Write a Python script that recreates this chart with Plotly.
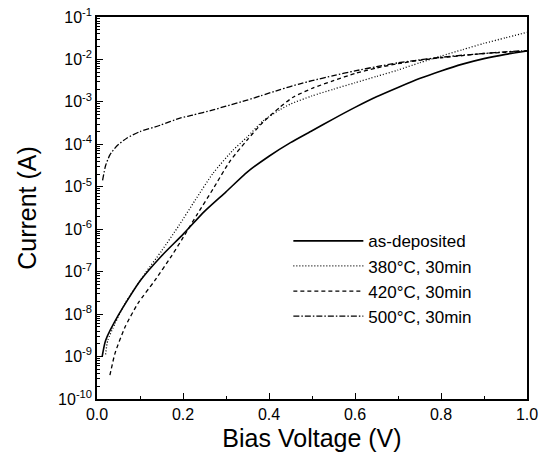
import plotly.graph_objects as go

# as-deposited
v_asdep = [0.012, 0.02, 0.05, 0.1, 0.15, 0.2, 0.25, 0.3, 0.35, 0.4, 0.45, 0.5, 0.55, 0.6, 0.65, 0.7, 0.75, 0.8, 0.85, 0.9, 0.95, 1.0]
logi_asdep = [-9.0, -8.62, -8.02, -7.22, -6.63, -6.12, -5.58, -5.12, -4.65, -4.28, -3.96, -3.68, -3.40, -3.13, -2.88, -2.66, -2.45, -2.27, -2.11, -1.98, -1.88, -1.80]

# 380C, 30min
v_380 = [0.02, 0.025, 0.042, 0.065, 0.112, 0.151, 0.19, 0.228, 0.27, 0.316, 0.349, 0.386, 0.426, 0.45, 0.5, 0.55, 0.6, 0.65, 0.7, 0.75, 0.8, 0.85, 0.9, 0.95, 1.0]
logi_380 = [-8.95, -8.62, -8.22, -7.75, -7.04, -6.50, -5.92, -5.32, -4.68, -4.14, -3.83, -3.45, -3.18, -3.05, -2.86, -2.70, -2.55, -2.40, -2.25, -2.08, -1.92, -1.77, -1.62, -1.49, -1.36]

# 420C, 30min
v_420 = [0.03, 0.042, 0.065, 0.095, 0.135, 0.174, 0.2, 0.233, 0.27, 0.309, 0.349, 0.386, 0.426, 0.456, 0.503, 0.55, 0.6, 0.65, 0.7, 0.75, 0.8, 0.85, 0.9, 0.95, 1.0]
logi_420 = [-9.44, -8.92, -8.31, -7.75, -7.20, -6.62, -6.20, -5.65, -5.05, -4.40, -3.90, -3.48, -3.12, -2.89, -2.67, -2.50, -2.33, -2.20, -2.10, -2.02, -1.96, -1.91, -1.86, -1.83, -1.80]

# 500C, 30min
v_500 = [0.013, 0.02, 0.03, 0.045, 0.07, 0.1, 0.147, 0.193, 0.223, 0.27, 0.3, 0.349, 0.38, 0.426, 0.47, 0.5, 0.55, 0.6, 0.65, 0.7, 0.75, 0.8, 0.85, 0.9, 0.95, 1.0]
logi_500 = [-4.85, -4.50, -4.25, -4.05, -3.85, -3.70, -3.55, -3.38, -3.31, -3.19, -3.10, -2.96, -2.86, -2.71, -2.58, -2.50, -2.38, -2.27, -2.17, -2.08, -2.01, -1.95, -1.90, -1.86, -1.82, -1.79]

names = ["as-deposited", "380\u00b0C, 30min", "420\u00b0C, 30min", "500\u00b0C, 30min"]
y_tickvals = [1e-10, 1e-9, 1e-8, 1e-7, 1e-6, 1e-5, 1e-4, 1e-3, 1e-2, 1e-1]
y_ticktext = ["10<sup>-10</sup>", "10<sup>-9</sup>", "10<sup>-8</sup>", "10<sup>-7</sup>", "10<sup>-6</sup>",
              "10<sup>-5</sup>", "10<sup>-4</sup>", "10<sup>-3</sup>", "10<sup>-2</sup>", "10<sup>-1</sup>"]
x_tickvals = [0.0, 0.2, 0.4, 0.6, 0.8, 1.0]
x_ticktext = ["0.0", "0.2", "0.4", "0.6", "0.8", "1.0"]

series = [
    (v_asdep, logi_asdep, "solid", 1.6),
    (v_380, logi_380, "1px,2px", 1.3),
    (v_420, logi_420, "4px,3px", 1.3),
    (v_500, logi_500, "6px,2px,1.5px,2px", 1.3),
]

fig = go.Figure()
for (v, lg, dash, w), name in zip(series, names):
    fig.add_trace(go.Scatter(
        x=v, y=[10 ** e for e in lg], mode="lines", name=name,
        line=dict(color="black", width=w, dash=dash, shape="spline", smoothing=0.6),
    ))

font_family = "Liberation Sans, Arial, sans-serif"
fig.update_layout(
    width=542, height=460,
    margin=dict(l=97, r=15, t=17, b=61),
    paper_bgcolor="white", plot_bgcolor="white",
    font=dict(family=font_family, color="black", size=16),
    showlegend=True,
    legend=dict(x=0.445, y=0.46, xanchor="left", yanchor="top",
                bgcolor="rgba(0,0,0,0)", font=dict(size=17, family=font_family),
                itemwidth=70, tracegroupgap=0),
    xaxis=dict(range=[0, 1], tickmode="array", tickvals=x_tickvals, ticktext=x_ticktext,
               ticks="inside", ticklen=6, tickwidth=1, tickcolor="black",
               ticklabeloverflow="allow", automargin=False,
               minor=dict(ticks="inside", ticklen=3, dtick=0.1, tickcolor="black"),
               showline=True, linecolor="black", linewidth=1.5, mirror=True,
               showgrid=False, zeroline=False,
               title=dict(text="Bias Voltage (V)", font=dict(size=25), standoff=8),
               tickfont=dict(size=16)),
    yaxis=dict(type="log", range=[-10, -1], tickmode="array", tickvals=y_tickvals, ticktext=y_ticktext,
               ticks="inside", ticklen=6, tickwidth=1, tickcolor="black",
               ticklabeloverflow="allow", automargin=False,
               minor=dict(ticks="inside", ticklen=3, dtick="D1", tickcolor="black"),
               showline=True, linecolor="black", linewidth=1.5, mirror=True,
               showgrid=False, zeroline=False,
               title=dict(text="Current (A)", font=dict(size=25), standoff=14),
               tickfont=dict(size=16)),
)

fig.write_html("out.html", config={"displayModeBar": False},
               post_script="document.body.style.margin='0';")
